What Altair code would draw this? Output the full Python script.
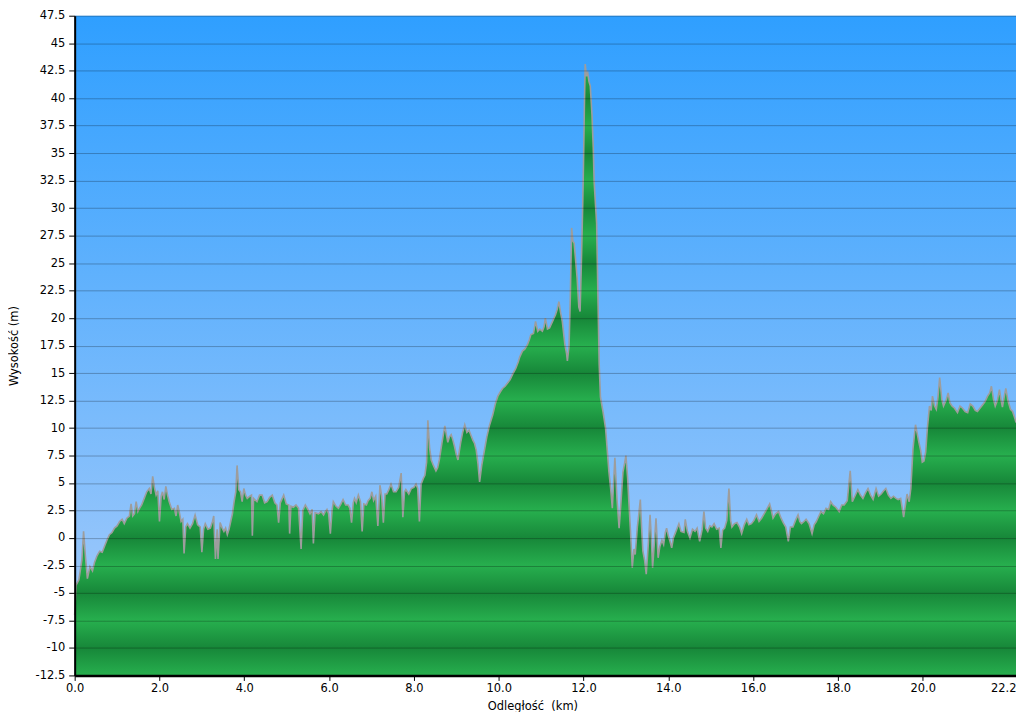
import altair as alt
import pandas as pd

# ---- data (distance in km, elevation in m) ----
km = [
    0.00, 0.03, 0.10, 0.17, 0.21, 0.25, 0.30, 0.36, 0.42, 0.47, 0.53, 0.59, 0.65, 0.70, 0.76, 0.82, 0.88, 0.94,
    1.00, 1.06, 1.12, 1.17, 1.23, 1.29, 1.33, 1.37, 1.41, 1.45, 1.49, 1.53, 1.58, 1.64, 1.70, 1.76, 1.80, 1.84,
    1.88, 1.92, 1.96, 2.00, 2.04, 2.07, 2.11, 2.15, 2.19, 2.23, 2.29, 2.35, 2.39, 2.43, 2.47, 2.51, 2.55, 2.58,
    2.62, 2.66, 2.72, 2.78, 2.84, 2.90, 2.96, 3.00, 3.04, 3.08, 3.14, 3.20, 3.25, 3.28, 3.32, 3.36, 3.38, 3.43,
    3.48, 3.52, 3.56, 3.60, 3.64, 3.68, 3.72, 3.76, 3.80, 3.83, 3.87, 3.91, 3.95, 3.99, 4.03, 4.07, 4.13, 4.17,
    4.19, 4.22, 4.30, 4.36, 4.42, 4.48, 4.54, 4.60, 4.66, 4.72, 4.77, 4.81, 4.85, 4.93, 4.99, 5.05, 5.07, 5.10,
    5.16, 5.22, 5.28, 5.34, 5.38, 5.44, 5.50, 5.55, 5.60, 5.63, 5.67, 5.75, 5.81, 5.87, 5.91, 5.95, 5.99, 6.03,
    6.07, 6.10, 6.16, 6.22, 6.28, 6.33, 6.39, 6.45, 6.49, 6.53, 6.57, 6.60, 6.64, 6.69, 6.74, 6.78, 6.82, 6.88,
    6.92, 6.97, 7.01, 7.05, 7.10, 7.15, 7.20, 7.24, 7.28, 7.32, 7.36, 7.41, 7.46, 7.52, 7.58, 7.64, 7.70, 7.74,
    7.78, 7.81, 7.88, 7.94, 8.00, 8.05, 8.09, 8.13, 8.17, 8.22, 8.26, 8.30, 8.33, 8.37, 8.41, 8.46, 8.52, 8.56,
    8.60, 8.66, 8.73, 8.77, 8.80, 8.84, 8.88, 8.92, 8.96, 9.00, 9.04, 9.10, 9.15, 9.20, 9.25, 9.30, 9.35, 9.39,
    9.43, 9.47, 9.51, 9.55, 9.60, 9.67, 9.72, 9.78, 9.82, 9.86, 9.92, 9.98, 10.04, 10.09, 10.15, 10.21, 10.27,
    10.33, 10.40, 10.46, 10.50, 10.56, 10.62, 10.68, 10.72, 10.76, 10.82, 10.87, 10.92, 10.97, 11.03, 11.07,
    11.10, 11.15, 11.20, 11.27, 11.34, 11.38, 11.42, 11.46, 11.50, 11.56, 11.60, 11.62, 11.66, 11.69, 11.72,
    11.75, 11.78, 11.82, 11.85, 11.89, 11.92, 11.95, 11.98, 12.00, 12.02, 12.04, 12.07, 12.10, 12.13, 12.16,
    12.20, 12.23, 12.25, 12.28, 12.31, 12.34, 12.37, 12.40, 12.46, 12.52, 12.56, 12.60, 12.64, 12.68, 12.71,
    12.74, 12.79, 12.84, 12.88, 12.93, 12.97, 13.00, 13.04, 13.07, 13.11, 13.15, 13.19, 13.22, 13.27, 13.30,
    13.34, 13.37, 13.40, 13.44, 13.48, 13.53, 13.57, 13.60, 13.63, 13.67, 13.71, 13.76, 13.80, 13.85, 13.89,
    13.93, 13.96, 14.00, 14.04, 14.08, 14.12, 14.16, 14.20, 14.25, 14.30, 14.37, 14.40, 14.45, 14.51, 14.57,
    14.63, 14.68, 14.74, 14.80, 14.84, 14.88, 14.93, 14.98, 15.03, 15.08, 15.14, 15.20, 15.24, 15.28, 15.33,
    15.38, 15.43, 15.47, 15.50, 15.56, 15.62, 15.68, 15.73, 15.79, 15.85, 15.90, 15.96, 16.02, 16.08, 16.14,
    16.20, 16.26, 16.32, 16.39, 16.43, 16.47, 16.53, 16.60, 16.66, 16.71, 16.77, 16.83, 16.88, 16.94, 17.00,
    17.06, 17.10, 17.14, 17.20, 17.25, 17.32, 17.39, 17.44, 17.49, 17.55, 17.60, 17.66, 17.72, 17.78, 17.83,
    17.88, 17.95, 18.03, 18.09, 18.15, 18.22, 18.29, 18.34, 18.40, 18.47, 18.53, 18.59, 18.65, 18.71, 18.77,
    18.83, 18.90, 18.96, 19.02, 19.08, 19.13, 19.19, 19.25, 19.31, 19.37, 19.42, 19.48, 19.55, 19.60, 19.63,
    19.68, 19.72, 19.77, 19.83, 19.87, 19.91, 19.95, 19.99, 20.03, 20.07, 20.11, 20.16, 20.20, 20.23, 20.28,
    20.32, 20.36, 20.40, 20.45, 20.49, 20.55, 20.60, 20.64, 20.69, 20.75, 20.82, 20.88, 20.94, 21.00, 21.06,
    21.12, 21.18, 21.24, 21.29, 21.35, 21.41, 21.47, 21.53, 21.58, 21.62, 21.67, 21.71, 21.76, 21.81, 21.85,
    21.88, 21.92, 21.96, 22.01, 22.07, 22.12, 22.18, 22.20,
]
elev = [
    -7.0, -4.3, -3.8, -2.0, 0.6, -1.5, -3.7, -2.6, -3.0, -2.2, -1.6, -1.2, -1.3, -0.8, -0.2, 0.3, 0.5, 0.9,
    1.1, 1.5, 1.7, 1.3, 1.8, 2.0, 3.1, 2.0, 2.2, 3.3, 2.4, 2.7, 3.0, 3.6, 4.2, 4.5, 4.0, 5.6,
    4.6, 3.9, 4.3, 1.5, 3.8, 4.2, 3.5, 4.7, 3.9, 3.3, 2.6, 2.7, 2.0, 3.0, 2.3, 1.5, 1.7, -1.4,
    1.0, 1.3, 0.9, 1.3, 2.1, 1.2, 1.0, -1.3, 0.8, 1.3, 0.8, 0.9, 1.5, 2.0, -1.9, 0.8, -1.9, 1.4,
    0.9, 0.6, 0.9, 0.3, 0.8, 1.5, 2.2, 3.3, 4.2, 6.6, 4.4, 4.2, 3.3, 4.5, 3.9, 3.6, 3.8, 3.9,
    0.2, 3.6, 3.3, 3.9, 3.9, 3.2, 3.3, 3.7, 3.9, 3.2, 3.0, 1.4, 3.2, 3.9, 3.1, 3.0, 0.4, 2.9,
    2.8, 3.0, 2.7, -1.0, 2.5, 3.0, 2.6, 2.2, 2.6, -0.5, 2.3, 2.2, 2.4, 2.1, 2.4, 2.6, 2.2, 0.4,
    2.5, 3.3, 2.9, 2.7, 3.1, 3.5, 3.0, 3.0, 2.7, 1.4, 3.2, 3.6, 3.2, 3.9, 3.3, 0.6, 3.1, 3.0,
    3.4, 3.6, 4.2, 3.4, 3.8, 1.1, 4.8, 3.8, 1.4, 4.0, 4.0, 4.4, 4.9, 4.2, 4.2, 4.6, 5.9, 1.9,
    4.2, 4.4, 4.0, 4.5, 4.6, 4.9, 4.5, 1.5, 4.9, 5.4, 5.7, 6.9, 10.7, 8.2, 7.1, 6.6, 6.1, 6.4,
    7.1, 8.6, 10.2, 9.3, 8.7, 9.2, 9.4, 8.9, 8.3, 7.6, 7.1, 8.6, 9.6, 10.3, 9.6, 9.8, 9.3, 8.9,
    8.6, 8.0, 6.8, 5.1, 6.6, 8.1, 9.2, 10.2, 10.7, 11.2, 12.2, 12.9, 13.3, 13.6, 13.8, 14.1, 14.4,
    14.9, 15.4, 16.0, 16.5, 17.0, 17.2, 17.6, 18.0, 18.5, 18.6, 19.7, 18.8, 19.0, 18.8, 19.2,
    20.0, 19.0, 19.1, 19.7, 20.3, 20.8, 21.5, 20.5, 19.7, 17.6, 16.8, 16.1, 17.5, 22.0, 28.2,
    27.0, 26.8, 25.0, 23.6, 21.0, 20.6, 25.0, 30.0, 34.0, 39.0, 43.1, 42.0, 42.3, 41.5, 41.1,
    38.5, 35.5, 32.5, 30.5, 28.6, 22.0, 15.8, 12.8, 11.5, 10.0, 8.0, 6.0, 4.5, 2.7, 5.0,
    7.3, 3.5, 0.9, 3.0, 6.0, 6.8, 7.5, 5.5, 3.3, 0.5, -2.7, -1.0, -1.5, 1.0, 2.0,
    3.5, 1.0, -1.2, -2.0, -3.3, -0.5, 2.1, 0.0, -2.7, -0.5, 1.8, -1.8, -0.8, -0.2, -0.6,
    0.5, 0.9, 0.2, -0.3, -0.9, 0.0, 0.4, 0.8, 1.3, 0.6, 0.5, 1.7, 0.6, 0.0, 0.8,
    0.6, 0.9, -0.3, 0.8, 2.4, 0.9, 0.6, 1.1, 1.0, 1.3, 0.8, 0.9, -0.9, 0.7, 0.9,
    1.6, 4.5, 1.6, 1.0, 1.3, 1.4, 1.0, 0.4, 1.2, 1.7, 1.2, 1.3, 1.6, 2.1, 1.5,
    1.8, 2.2, 2.6, 3.1, 2.5, 1.8, 2.2, 2.4, 1.8, 1.4, 1.0, -0.3, 1.0, 1.0, 1.6,
    2.1, 1.5, 1.3, 1.5, 1.7, 1.3, 0.4, 1.2, 1.5, 2.0, 2.4, 2.2, 2.7, 2.6, 3.3,
    3.0, 2.8, 2.4, 3.0, 3.0, 3.4, 6.1, 3.3, 3.8, 4.4, 3.9, 3.6, 4.1, 4.5, 3.9,
    3.5, 4.5, 3.8, 4.0, 4.3, 4.5, 3.9, 3.6, 3.8, 3.6, 3.5, 3.6, 1.9, 3.2, 4.0,
    3.3, 4.5, 8.1, 10.3, 9.5, 8.7, 8.0, 6.9, 7.0, 7.8, 10.0, 12.0, 11.6, 12.9, 12.0,
    11.7, 12.8, 14.6, 12.6, 12.0, 12.5, 13.2, 12.3, 12.0, 11.8, 11.4, 12.0, 11.8, 11.5, 11.4,
    12.2, 12.0, 11.6, 11.5, 11.8, 12.1, 12.4, 12.9, 13.2, 13.8, 12.6, 12.0, 12.5, 13.5, 12.5,
    11.9, 12.8, 13.6, 12.5, 11.7, 11.5, 10.8, 10.5,
]

y_ticks = [-12.5, -10, -7.5, -5, -2.5, 0, 2.5, 5, 7.5, 10, 12.5, 15, 17.5, 20, 22.5, 25,
           27.5, 30, 32.5, 35, 37.5, 40, 42.5, 45, 47.5]
x_ticks = [0, 2, 4, 6, 8, 10, 12, 14, 16, 18, 20, 22.2]

df = pd.DataFrame({"km": km, "elev": elev})

W, H = 946, 663
YMIN, YMAX = -12.5, 47.5
XMAX = 22.2
FONT = "DejaVu Sans"

# ---- styling: banded green fill (light at multiples of 5, dark in between) ----
LIGHT = (0x27, 0xAF, 0x4E)
DARK = (0x17, 0x87, 0x39)


def hexc(c):
    return "#%02x%02x%02x" % tuple(int(round(v)) for v in c)


def band_color(v):
    r = (v % 5.0) / 2.5
    t = abs(1.0 - r)
    return hexc(tuple(LIGHT[i] + (DARK[i] - LIGHT[i]) * t for i in range(3)))


top = max(elev)
span = top - YMIN
stops = [alt.GradientStop(offset=0, color=band_color(top))]
lv = [v for v in sorted(y_ticks, reverse=True) if v < top]
for v in lv:
    stops.append(alt.GradientStop(offset=(top - v) / span, color=band_color(v)))
green = alt.LinearGradient(gradient="linear", stops=stops, x1=0, x2=0, y1=0, y2=1)

sky = alt.LinearGradient(
    gradient="linear",
    stops=[alt.GradientStop(offset=0, color="#2f9fff"),
           alt.GradientStop(offset=1, color="#aacdfa")],
    x1=0, x2=0, y1=0, y2=1,
)

bg = alt.Chart(alt.Data(values=[{"a": 1}])).mark_rect(fill=sky, strokeWidth=0).encode(
    x=alt.value(0), x2=alt.value(W), y=alt.value(0), y2=alt.value(H)
)

x_enc = alt.X(
    "km:Q",
    scale=alt.Scale(domain=[0, XMAX], nice=False, zero=False),
    axis=alt.Axis(
        values=x_ticks, format=".1f", title="Odległość\u00a0 (km)", grid=False,
        labelAlign={"expr": "datum.value > 22 ? 'right' : 'center'"},
        domainColor="black", domainWidth=2.5, tickColor="black", tickSize=5,
        labelPadding=2, labelFont=FONT, labelFontSize=11.5, labelColor="black",
        titleFont=FONT, titleFontSize=11.5, titleFontWeight="normal", titleColor="black",
        titleBaseline="middle", titleY=31, titleX=460, zindex=1,
    ),
)
y_enc = alt.Y(
    "elev:Q",
    scale=alt.Scale(domain=[YMIN, YMAX], nice=False, zero=False),
    axis=alt.Axis(
        values=y_ticks, labelExpr="datum.value + ''", title="Wysokość (m)", grid=True,
        gridColor="black", gridOpacity=0.26, gridWidth=1,
        domainColor="black", domainWidth=2, tickColor="black", tickSize=6,
        labelPadding=4, labelFont=FONT, labelFontSize=11.5, labelColor="black",
        titleFont=FONT, titleFontSize=11.5, titleFontWeight="normal", titleColor="black",
        titleX=-60, titleY=H / 2, titleAlign="center", titleBaseline="middle", zindex=1,
    ),
)

base = alt.Chart(df).encode(x=x_enc, y=y_enc)
area = base.mark_area(fill=green, opacity=1, interpolate="linear").encode(y2=alt.datum(YMIN))
line = base.mark_line(color="#9d9d9d", strokeWidth=1.6, interpolate="linear")

chart = alt.layer(bg, area, line).properties(
    width=W, height=H,
    autosize=alt.AutoSizeParams(type="none"),
    padding={"left": 67, "top": 6, "right": 0, "bottom": 35},
    background="white",
).configure_view(stroke=None)

chart.save("out.html", embed_options={"renderer": "svg", "actions": False})
